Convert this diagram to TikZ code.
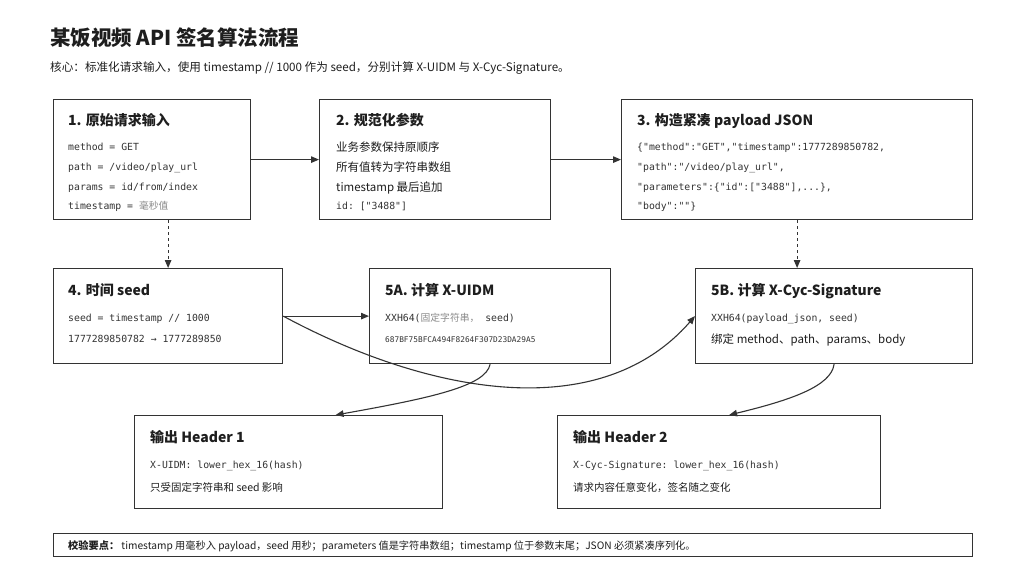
\documentclass[tikz,border=0pt]{standalone}
\usepackage{fontspec}
\setmainfont{Noto Sans CJK SC}
\setmonofont{DejaVu Sans Mono}
\newfontfamily\cjk{Noto Sans CJK SC}
\usetikzlibrary{arrows.meta, calc}

\definecolor{ink}{HTML}{1E1E1E}
\definecolor{edge}{HTML}{333333}
\definecolor{codeink}{HTML}{333333}
\definecolor{muted}{HTML}{8A8A8A}

\tikzset{
  box/.style={draw=edge, line width=1.2pt, anchor=north west, inner sep=0pt, fill=white},
  head/.style={anchor=base west, inner sep=0pt, text=ink, font=\bfseries\fontsize{14}{14}\selectfont},
  body/.style={anchor=base west, inner sep=0pt, text=ink, font=\fontsize{11.5}{12}\selectfont},
  note/.style={anchor=base west, inner sep=0pt, text=ink, font=\fontsize{10.5}{11}\selectfont},
  code/.style={anchor=base west, inner sep=0pt, text=codeink, font=\ttfamily\fontsize{9.8}{10}\selectfont},
  arr/.style={draw=edge, line width=1.1pt, -{Triangle[length=8pt,width=6.5pt]}}
}

\begin{document}
\begin{tikzpicture}[x=1pt, y=-1pt]
\useasboundingbox[fill=white] (0,0) rectangle (1024,576);

% title
\node[anchor=base west, inner sep=0pt, text=ink, font=\bfseries\fontsize{20.5}{21}\selectfont] (title) at (50,45) {某饭视频 API 签名算法流程};
\node[anchor=base west, inner sep=0pt, text=ink, font=\fontsize{11.6}{12}\selectfont] (sub) at (50,71) {核心：标准化请求输入，使用 timestamp // 1000 作为 seed，分别计算 X-UIDM 与 X-Cyc-Signature。};

% boxes
\node[box, minimum width=197pt, minimum height=120pt] (s1) at (53,99) {};
\node[box, minimum width=231pt, minimum height=120pt] (s2) at (319,99) {};
\node[box, minimum width=351pt, minimum height=120pt] (s3) at (621,99) {};
\node[box, minimum width=229pt, minimum height=95pt] (s4) at (53,268) {};
\node[box, minimum width=241pt, minimum height=95pt] (s5a) at (369,268) {};
\node[box, minimum width=277pt, minimum height=95pt] (s5b) at (695,268) {};
\node[box, minimum width=308pt, minimum height=93pt] (h1) at (134,415) {};
\node[box, minimum width=323pt, minimum height=93pt] (h2) at (557,415) {};
\node[box, minimum width=919pt, minimum height=23pt] (ft) at (53,533) {};

% 1
\node[head] (s1t) at (68,125) {1. 原始请求输入};
\node[code] (s1a) at (68,150.5) {method = GET};
\node[code] (s1b) at (68,170.5) {path = /video/play\_url};
\node[code] (s1c) at (68,190.5) {params = id/from/index};
\node[code] (s1d) at (68,209.5) {timestamp = {\cjk\color{muted}毫秒值}};

% 2
\node[head] (s2t) at (336,125) {2. 规范化参数};
\node[body] (s2a) at (336,151) {业务参数保持原顺序};
\node[body] (s2b) at (336,171) {所有值转为字符串数组};
\node[body] (s2c) at (336,191) {timestamp 最后追加};
\node[code] (s2d) at (336,209.5) {id: ["3488"]};

% 3
\node[head] (s3t) at (637,125) {3. 构造紧凑 payload JSON};
\node[code] (s3a) at (637,150.5) {\{"method":"GET","timestamp":1777289850782,};
\node[code] (s3b) at (637,170.5) {"path":"/video/play\_url",};
\node[code] (s3c) at (637,190.5) {"parameters":\{"id":["3488"],...\},};
\node[code] (s3d) at (637,209.5) {"body":""\}};

% 4
\node[head] (s4t) at (68,295) {4. 时间 seed};
\node[code] (s4a) at (68,321.5) {seed = timestamp // 1000};
\node[code] (s4b) at (68,342.5) {1777289850782 → 1777289850};

% 5A
\node[head] (s5at) at (385,295) {5A. 计算 X-UIDM};
\node[code] (s5aa) at (385,321.5) {XXH64({\cjk\color{muted}固定字符串，} seed)};
\node[code, font=\ttfamily\fontsize{7.8}{8}\selectfont] (s5ab) at (385,342) {687BF75BFCA494F8264F307D23DA29A5};

% 5B
\node[head] (s5bt) at (711,295) {5B. 计算 X-Cyc-Signature};
\node[code] (s5ba) at (711,321.5) {XXH64(payload\_json, seed)};
\node[body] (s5bb) at (711,343) {绑定 method、path、params、body};

% outputs
\node[head] (h1t) at (150,442) {输出 Header 1};
\node[code] (h1a) at (150,468.5) {X-UIDM: lower\_hex\_16(hash)};
\node[note] (h1b) at (150,491.5) {只受固定字符串和 seed 影响};
\node[head] (h2t) at (573,442) {输出 Header 2};
\node[code] (h2a) at (573,468.5) {X-Cyc-Signature: lower\_hex\_16(hash)};
\node[note] (h2b) at (573,491.5) {请求内容任意变化，签名随之变化};

% footer
\node[anchor=base west, inner sep=0pt, text=ink, font=\fontsize{10.2}{10}\selectfont] (ftt) at (68,549.5) {\textbf{校验要点：} timestamp 用毫秒入 payload，seed 用秒；parameters 值是字符串数组；timestamp 位于参数末尾；JSON 必须紧凑序列化。};

% connectors
\draw[arr] (s1) -- (s2);
\draw[arr] (s2) -- (s3);
\draw[arr, dashed] (s1.south -| s4.north) -- (s4.north);
\draw[arr, dashed] (s3.south) -- (s3.south |- s5b.north);
\draw[arr] (s4) -- (s5a);
\draw[arr] (s4.east) .. controls (430,395) and (600,425) .. (s5b.west);
\draw[arr] (s5a.south) .. controls +(-4,22) and +(95,-17) .. ($(h1.north)+(47,0)$);
\draw[arr] (s5b.south) .. controls +(-3,22) and +(62,-15) .. ($(h2.north)+(10,0)$);

\end{tikzpicture}
\end{document}
